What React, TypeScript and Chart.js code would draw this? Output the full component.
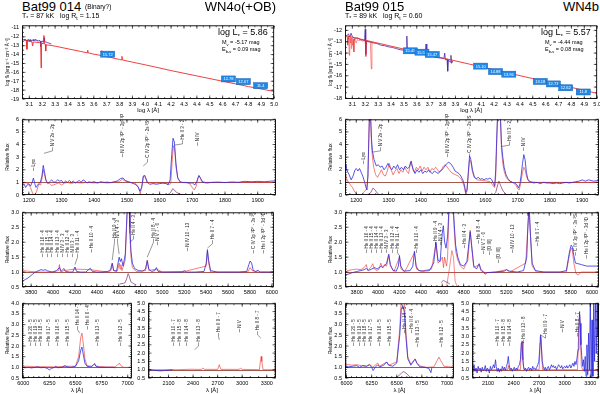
import React, { useEffect, useRef } from 'react';
import { Chart, registerables } from 'chart.js';
Chart.register(...registerables);

const FONT = "'Liberation Sans', Helvetica, Arial, sans-serif";
const BLUE = 'rgb(45,45,225)';
const RED = 'rgba(238,40,40,0.75)';
const RED_SOLID = 'rgb(236,45,45)';
const PURPLE = 'rgb(75,40,170)';
const INSET = 'rgb(130,40,120)';

type P = [number, number];
type LineId = { x: number; y: number; t: string; lx?: number; ly?: number };
type Phot = { x: number; y: number; t: string };

// ---------------- tick labels ----------------
const sedXTicks = [3.1, 3.2, 3.3, 3.4, 3.5, 3.6, 3.7, 3.8, 3.9, 4.0, 4.1, 4.2, 4.3, 4.4, 4.5, 4.6, 4.7, 4.8, 4.9, 5.0];
const sedYTicksL = [-11, -12, -13, -14, -15, -16, -17, -18, -19];
const sedYTicksR = [-12, -13, -14, -15, -16, -17, -18];
const uvXTicks = [1200, 1300, 1400, 1500, 1600, 1700, 1800, 1900];
const uvYTicks = [0, 1, 2, 3, 4, 5, 6];
const optXTicks = [3800, 4000, 4200, 4400, 4600, 4800, 5000, 5200, 5400, 5600, 5800, 6000];
const optYTicks = [0.5, 1.0, 1.5, 2.0, 2.5, 3.0];
const haXTicks = [6000, 6250, 6500, 6750, 7000];
const haYTicks = [0.5, 1.0, 1.5, 2.0, 2.5, 3.0, 3.5, 4.0];
const irXTicks = [2100, 2400, 2700, 3000, 3300];
const irYTicks = [0.5, 1.0, 1.5, 2.0, 2.5, 3.0, 3.5, 4.0, 4.5, 5.0];

// ---------------- SED, Bat99 014 ----------------
const sedModelL: P[] = [[3.043,-12.3],[3.07,-12.35],[3.078,-12.4],[3.081,-13.4],[3.084,-12.45],[3.1,-12.5],[3.12,-12.55],[3.124,-13.0],[3.128,-12.6],[3.15,-12.6],[3.18,-12.65],[3.188,-12.7],[3.191,-15.5],[3.194,-12.75],[3.21,-12.75],[3.213,-11.85],[3.216,-12.8],[3.224,-12.85],[3.227,-13.6],[3.23,-12.9],[3.26,-12.95],[3.3,-13.05],[3.4,-13.35],[3.5,-13.65],[3.55,-13.8],[3.553,-13.5],[3.556,-13.8],[3.6,-13.95],[3.66,-14.1],[3.663,-13.55],[3.667,-14.15],[3.7,-14.25],[3.733,-14.3],[3.735,-14.05],[3.738,-14.35],[3.8,-14.55],[3.817,-14.6],[3.819,-14.2],[3.822,-14.6],[3.9,-14.85],[4.0,-15.15],[4.2,-15.8],[4.4,-16.4],[4.6,-17.0],[4.8,-17.6],[5.0,-18.15]];
const sedObsL: P[] = [[3.06,-12.25],[3.065,-12.4],[3.07,-12.3],[3.075,-12.45],[3.08,-12.35],[3.085,-12.5],[3.09,-12.3],[3.095,-12.4],[3.1,-12.35],[3.105,-12.5],[3.11,-12.3],[3.115,-12.45],[3.12,-12.35],[3.125,-12.4],[3.13,-12.3],[3.135,-12.45],[3.14,-12.4],[3.145,-12.3],[3.15,-12.4],[3.155,-12.35],[3.16,-12.45],[3.165,-12.4],[3.17,-12.5],[3.175,-12.4],[3.18,-12.45],[3.185,-12.5],[3.188,-13.1],[3.192,-12.5],[3.2,-12.55],[3.205,-12.45],[3.21,-12.55],[3.214,-12.1],[3.218,-12.55],[3.23,-12.6],[3.24,-12.65],[3.25,-12.7],[3.26,-12.75],[3.27,-12.8]];
const sedPhotL: Phot[] = [{x:3.708,y:-13.95,t:'15.72'},{x:4.645,y:-16.74,t:'12.78'},{x:4.761,y:-17.04,t:'12.67'},{x:4.895,y:-17.5,t:'11.4'}];

// ---------------- SED, Bat99 015 ----------------
const sedModelR: P[] = [[3.043,-12.45],[3.5,-13.65],[4.0,-14.95],[4.5,-16.25],[5.0,-17.55]];
const sedUvR: P[] = [[3.06,-12.6],[3.064,-13.3],[3.068,-12.5],[3.072,-12.8],[3.076,-14.2],[3.08,-12.7],[3.084,-13.1],[3.088,-12.6],[3.092,-13.6],[3.096,-12.65],[3.1,-13.3],[3.104,-12.7],[3.108,-12.8],[3.112,-13.9],[3.116,-12.75],[3.12,-12.85],[3.13,-13.1],[3.14,-12.8],[3.15,-12.9],[3.16,-12.85],[3.17,-12.9],[3.18,-12.95],[3.19,-12.9],[3.2,-12.95],[3.205,-14.3],[3.21,-12.95],[3.22,-13.0],[3.23,-13.0],[3.24,-13.05],[3.247,-15.4],[3.252,-13.05],[3.26,-13.1]];
const sedObsR: P[] = [[3.06,-12.45],[3.07,-12.3],[3.08,-12.6],[3.09,-12.25],[3.1,-12.55],[3.12,-12.7],[3.14,-12.65],[3.16,-12.8],[3.18,-12.85],[3.195,-12.9],[3.2,-11.9],[3.204,-14.1],[3.21,-12.95],[3.23,-13.0],[3.26,-13.1],[3.29,-13.15],[3.32,-13.3],[3.35,-13.35],[3.38,-13.45],[3.41,-13.5],[3.44,-13.6],[3.47,-13.7],[3.5,-13.75],[3.52,-13.8],[3.523,-12.5],[3.527,-13.85],[3.55,-13.85],[3.58,-13.95],[3.61,-14.0],[3.64,-14.1],[3.665,-14.15],[3.672,-13.2],[3.678,-14.2],[3.7,-14.2],[3.73,-14.3],[3.733,-13.9],[3.736,-14.35],[3.76,-14.4],[3.79,-14.45],[3.81,-14.5],[3.817,-14.0],[3.822,-14.6],[3.835,-14.55],[3.84,-15.6],[3.845,-14.6],[3.86,-14.8],[3.865,-14.2],[3.87,-14.9],[3.88,-14.7]];
const sedPhotR: Phot[] = [{x:3.55,y:-13.8,t:'15.43'},{x:3.64,y:-13.92,t:'15.55'},{x:3.72,y:-14.12,t:'15.47'},{x:4.096,y:-15.15,t:'15.10'},{x:4.211,y:-15.63,t:'14.88'},{x:4.314,y:-15.86,t:'13.96'},{x:4.558,y:-16.5,t:'13.18'},{x:4.66,y:-16.72,t:'12.73'},{x:4.756,y:-17.06,t:'12.62'},{x:4.892,y:-17.43,t:'11.8'}];

// ---------------- UV, Bat99 014 ----------------
const uvObsL: P[] = [[1179,0.75],[1185,0.9],[1190,0.6],[1195,0.8],[1200,0.9],[1205,0.7],[1210,1.0],[1214,1.35],[1218,0.9],[1222,0.6],[1226,0.75],[1230,0.9],[1235,1.0],[1240,1.5],[1244,2.35],[1248,1.8],[1252,1.2],[1258,0.9],[1264,1.05],[1270,1.2],[1276,1.0],[1282,1.05],[1288,1.2],[1294,1.1],[1300,1.15],[1306,0.95],[1312,1.1],[1318,1.0],[1324,1.15],[1330,1.0],[1336,1.1],[1342,0.95],[1348,1.05],[1354,1.15],[1360,1.0],[1366,1.2],[1372,1.1],[1378,0.95],[1384,1.05],[1390,1.0],[1400,1.05],[1410,0.95],[1420,1.05],[1430,1.0],[1440,1.02],[1450,0.98],[1460,1.05],[1470,1.1],[1480,1.3],[1488,1.35],[1495,1.15],[1505,1.05],[1515,0.95],[1525,0.85],[1533,0.7],[1540,0.3],[1545,0.6],[1550,1.5],[1555,1.55],[1562,1.0],[1570,0.85],[1580,0.9],[1590,0.85],[1600,0.9],[1610,0.95],[1620,0.9],[1626,0.8],[1632,1.2],[1637,3.2],[1641,4.5],[1645,4.2],[1650,2.5],[1655,1.4],[1662,1.05],[1670,1.0],[1680,1.0],[1690,0.95],[1700,0.95],[1708,0.8],[1714,1.1],[1720,1.55],[1726,1.3],[1732,1.0],[1745,0.95],[1760,1.0],[1780,1.02],[1800,0.98],[1820,1.03],[1840,1.0],[1860,1.08],[1880,1.05],[1900,1.08],[1920,1.05],[1940,1.1],[1956,1.12]];
const uvModL: P[] = [[1179,1.0],[1195,0.95],[1205,0.6],[1212,0.1],[1218,0.0],[1224,0.3],[1230,0.85],[1236,0.8],[1240,1.3],[1244,2.0],[1248,1.6],[1254,1.0],[1262,0.95],[1270,0.75],[1280,0.85],[1290,0.95],[1300,0.8],[1310,0.95],[1320,1.0],[1330,0.9],[1340,1.0],[1360,0.95],[1380,1.0],[1400,0.95],[1420,1.0],[1440,0.95],[1460,1.0],[1475,1.05],[1486,1.25],[1495,1.1],[1510,1.0],[1525,0.95],[1535,0.6],[1541,0.15],[1546,0.7],[1551,1.5],[1556,1.4],[1563,1.0],[1580,0.95],[1600,0.95],[1620,0.95],[1630,0.85],[1634,0.9],[1638,2.5],[1642,3.9],[1646,3.7],[1650,2.2],[1656,1.3],[1665,1.0],[1690,0.95],[1700,0.6],[1706,0.4],[1712,0.7],[1718,1.4],[1722,1.5],[1728,1.1],[1740,1.0],[1956,1.0]];
const uvInsetL: P[] = [[1620,0.0],[1630,0.1],[1636,0.3],[1640,0.5],[1645,0.4],[1652,0.2],[1665,0.05],[1680,0.0]];
const uvIdsL: LineId[] = [
  {x:1214,y:1.9,t:'Ly\u03b1'},
  {x:1270,y:3.5,t:'N V 2s - 2p',lx:1246,ly:3.3},
  {x:1484,y:3.0,t:'N IV 2p \u00b3P\u00b0 - 2p\u00b2 \u00b3P'},
  {x:1561,y:2.6,t:'C IV 2p \u00b2P\u00b0 - 2s \u00b2S',lx:1550,ly:2.3},
  {x:1668,y:4.05,t:'He II 3 - 2',lx:1645,ly:3.95},
  {x:1714,y:3.9,t:'N IV'},
];

// ---------------- UV, Bat99 015 ----------------
const uvObsR: P[] = [[1165,2.4],[1168,2.2],[1172,1.9],[1178,1.6],[1184,1.2],[1190,1.5],[1196,2.0],[1200,2.1],[1205,1.9],[1210,2.1],[1215,1.8],[1220,1.5],[1226,1.0],[1230,0.6],[1233,0.4],[1236,1.5],[1239,4.5],[1241,6.5],[1244,6.5],[1247,4.5],[1250,3.5],[1255,2.8],[1262,2.3],[1268,2.4],[1274,2.2],[1280,2.3],[1286,2.0],[1292,2.2],[1298,2.5],[1304,2.2],[1310,2.0],[1316,2.3],[1322,2.1],[1328,2.4],[1334,2.0],[1340,2.2],[1346,2.0],[1352,2.3],[1358,2.1],[1364,2.2],[1370,2.7],[1376,2.0],[1382,1.7],[1388,2.0],[1394,1.8],[1400,2.0],[1406,1.7],[1412,1.9],[1418,1.8],[1424,2.0],[1430,1.8],[1436,1.7],[1442,1.9],[1448,1.8],[1454,1.7],[1460,1.9],[1466,2.0],[1472,2.2],[1478,2.4],[1485,2.6],[1492,2.5],[1500,2.2],[1506,1.9],[1512,1.8],[1518,1.7],[1524,1.5],[1530,1.2],[1535,0.8],[1539,0.2],[1543,0.4],[1547,1.8],[1551,3.1],[1555,2.8],[1560,2.0],[1566,1.4],[1572,1.3],[1578,1.4],[1584,1.25],[1590,1.3],[1596,1.2],[1602,1.3],[1608,1.25],[1614,1.35],[1620,1.2],[1625,0.9],[1629,0.7],[1632,2.0],[1635,4.5],[1638,6.5],[1646,6.5],[1650,4.0],[1654,3.0],[1658,2.2],[1664,1.6],[1670,1.3],[1676,1.1],[1684,1.0],[1692,0.95],[1698,0.8],[1703,0.55],[1707,0.9],[1711,1.6],[1715,2.5],[1719,3.2],[1723,2.8],[1727,1.8],[1732,1.2],[1740,1.05],[1750,0.95],[1760,1.0],[1770,0.9],[1780,1.0],[1790,0.95],[1800,0.95],[1810,0.9],[1820,0.95],[1830,0.9],[1840,0.95],[1850,1.0],[1860,0.95],[1870,1.0],[1880,1.05],[1890,1.1],[1900,1.2],[1910,1.1],[1920,1.2],[1935,1.1],[1952,1.15]];
const uvModR: P[] = [[1165,1.8],[1170,1.3],[1176,1.0],[1182,0.8],[1188,0.6],[1194,0.3],[1200,0.1],[1206,0.0],[1214,0.0],[1220,0.1],[1226,0.3],[1232,0.5],[1236,1.5],[1239,5.0],[1241,6.5],[1244,6.5],[1247,4.0],[1250,3.0],[1254,2.2],[1260,1.6],[1266,1.4],[1272,1.7],[1278,2.0],[1284,1.6],[1290,1.5],[1296,1.9],[1302,2.5],[1308,2.0],[1314,1.6],[1320,1.9],[1326,2.1],[1332,1.7],[1338,2.0],[1344,1.8],[1350,2.2],[1356,1.9],[1362,1.7],[1368,2.6],[1374,2.2],[1380,1.8],[1386,2.2],[1392,2.0],[1398,2.3],[1404,1.9],[1410,2.2],[1416,2.0],[1422,2.2],[1428,1.8],[1434,2.1],[1440,2.0],[1446,2.2],[1452,2.0],[1458,1.8],[1464,2.0],[1470,2.3],[1476,2.4],[1482,2.2],[1488,2.0],[1494,1.8],[1500,1.7],[1508,1.6],[1516,1.5],[1524,1.3],[1530,1.0],[1535,0.6],[1539,0.1],[1543,0.3],[1547,1.6],[1551,2.8],[1555,2.6],[1560,1.8],[1566,1.4],[1575,1.2],[1590,1.15],[1605,1.1],[1615,1.05],[1622,0.8],[1628,0.6],[1632,1.5],[1635,4.0],[1638,6.5],[1646,6.5],[1650,3.5],[1654,2.5],[1658,1.9],[1664,1.4],[1672,1.15],[1684,1.0],[1694,0.8],[1700,0.5],[1705,0.4],[1710,1.0],[1715,1.8],[1719,2.2],[1723,2.0],[1728,1.4],[1735,1.05],[1760,1.0],[1952,1.0]];
const uvInsetR1: P[] = [[1236,0.0],[1245,0.2],[1252,0.55],[1258,0.4],[1265,0.15],[1272,0.0]];
const uvInsetR2: P[] = [[1625,0.0],[1632,0.2],[1638,0.8],[1642,1.1],[1648,0.7],[1655,0.3],[1665,0.05],[1680,0.0]];
const uvIdsR: LineId[] = [
  {x:1222,y:2.45,t:'Ly\u03b1'},
  {x:1273,y:3.5,t:'N V 2s - 2p',lx:1250,ly:3.4},
  {x:1480,y:3.0,t:'N IV 2p \u00b3P\u00b0 - 2p\u00b2 \u00b3P'},
  {x:1550,y:3.0,t:'C IV 2p \u00b2P\u00b0 - 2s \u00b2S'},
  {x:1673,y:3.95,t:'He II 3 - 2',lx:1650,ly:3.85},
  {x:1715,y:3.5,t:'N IV'},
];

// ---------------- optical, Bat99 014 ----------------
const optObsL: P[] = [[3716,0.7],[3733,0.72],[3750,0.76],[3770,0.8],[3790,0.86],[3810,0.92],[3830,0.98],[3850,1.02],[3870,1.05],[3890,1.08],[3910,1.06],[3930,1.08],[3950,1.04],[3970,1.02],[3990,1.0],[4010,1.02],[4030,1.05],[4058,1.15],[4075,1.03],[4100,1.12],[4115,1.02],[4150,1.0],[4180,1.0],[4200,1.17],[4215,1.02],[4250,1.0],[4300,1.0],[4340,1.13],[4360,1.02],[4400,1.0],[4450,1.0],[4500,1.02],[4525,1.08],[4541,1.3],[4555,1.05],[4580,1.02],[4604,1.5],[4615,1.35],[4625,1.45],[4640,1.2],[4660,1.6],[4672,2.6],[4680,3.3],[4695,3.3],[4702,2.5],[4712,1.7],[4725,1.3],[4745,1.12],[4780,1.05],[4820,1.03],[4845,1.1],[4861,1.38],[4875,1.1],[4900,1.02],[4930,1.05],[4945,1.15],[4960,1.02],[5000,1.0],[5100,1.0],[5180,1.0],[5200,1.05],[5220,1.0],[5300,1.0],[5380,1.02],[5400,1.3],[5411,1.75],[5422,1.4],[5440,1.05],[5500,1.0],[5600,1.0],[5700,1.0],[5770,1.02],[5790,1.25],[5801,1.37],[5815,1.3],[5830,1.05],[5850,1.02],[5875,1.06],[5890,1.0],[5950,1.0],[6019,1.0]];
const optModL: P[] = [[3716,1.05],[3800,1.02],[3850,1.0],[3900,1.0],[4000,1.0],[4050,1.05],[4058,1.25],[4068,1.0],[4100,1.05],[4200,1.1],[4340,1.08],[4500,1.0],[4530,1.05],[4541,1.28],[4552,1.05],[4590,1.05],[4604,1.3],[4612,1.1],[4620,1.25],[4630,1.05],[4660,1.4],[4672,2.5],[4680,3.3],[4695,3.3],[4702,2.3],[4712,1.5],[4725,1.15],[4760,1.02],[4845,1.05],[4861,1.4],[4875,1.05],[4945,1.1],[5000,1.0],[5200,1.02],[5400,1.2],[5411,1.7],[5422,1.3],[5440,1.0],[5780,1.0],[5801,1.15],[5820,1.05],[5875,1.0],[6019,1.0]];
const optInsetL: P[] = [[4610,0.6],[4640,0.62],[4660,0.65],[4675,0.8],[4686,0.95],[4695,0.88],[4710,0.68],[4740,0.6],[4760,0.58]];
const optIdsL: LineId[] = [
  {x:3895,y:1.5,t:'He II 16 - 4'},{x:3940,y:1.5,t:'He II 15 - 4'},{x:3985,y:1.5,t:'He II 14 - 4'},{x:4036,y:1.5,t:'He II 13 - 4'},
  {x:4081,y:1.5,t:'N IV 3 - 3'},{x:4130,y:1.5,t:'He II 12 - 4'},{x:4176,y:1.5,t:'N III 3 - 3'},{x:4221,y:1.5,t:'He II 11 - 4',lx:4200,ly:1.25},
  {x:4348,y:1.65,t:'He II 10 - 4'},
  {x:4559,y:2.0,t:'He II 9 - 4',lx:4541,ly:1.4},{x:4589,y:2.0,t:'N V 4 - 3',lx:4604,ly:1.6},
  {x:4731,y:2.1,t:'He II 4 - 3',lx:4700,ly:2.0},
  {x:4913,y:2.0,t:'He II 8 - 4',lx:4861,ly:1.5},{x:4952,y:1.9,t:'N V 7 - 6'},
  {x:5224,y:1.7,t:'N IV 10 - 13'},
  {x:5451,y:1.95,t:'He II 7 - 4',lx:5411,ly:1.8},
  {x:5829,y:1.62,t:'C IV 3p \u00b2P\u00b0 - 3s \u00b2S'},{x:5919,y:1.62,t:'He I 2p \u00b3P\u00b0 - 3d \u00b3D'},
];

// ---------------- optical, Bat99 015 ----------------
const optObsR: P[] = [[3691,0.9],[3720,0.93],[3760,0.98],[3800,1.02],[3840,1.05],[3870,1.08],[3890,1.12],[3910,1.05],[3940,1.1],[3970,1.15],[3990,1.1],[4010,1.15],[4030,1.2],[4045,1.15],[4060,1.2],[4080,1.3],[4100,1.6],[4115,1.25],[4140,1.05],[4170,1.03],[4190,1.2],[4200,1.55],[4212,1.2],[4240,1.03],[4300,1.05],[4325,1.2],[4340,1.7],[4355,1.2],[4380,1.05],[4420,1.03],[4480,1.05],[4520,1.3],[4541,2.0],[4560,1.4],[4580,1.35],[4600,2.3],[4610,2.55],[4622,2.0],[4635,1.8],[4650,2.2],[4665,3.3],[4700,3.3],[4712,2.6],[4725,1.9],[4745,1.5],[4770,1.25],[4800,1.2],[4830,1.35],[4850,2.0],[4861,2.35],[4872,2.0],[4895,1.2],[4920,1.1],[4945,1.28],[4960,1.1],[4985,1.0],[5000,0.93],[5020,0.98],[5100,1.0],[5180,1.03],[5200,1.08],[5230,1.03],[5300,1.0],[5360,1.05],[5390,1.5],[5400,2.5],[5411,3.3],[5425,2.2],[5440,1.3],[5470,1.05],[5550,1.0],[5700,1.0],[5760,1.05],[5790,1.7],[5805,1.9],[5815,1.85],[5830,1.55],[5845,1.3],[5870,1.28],[5900,1.25],[5950,1.2],[6000,1.2],[6065,1.2]];
const optModR: P[] = [[3691,1.0],[3720,1.05],[3760,1.08],[3800,1.1],[3840,1.08],[3870,1.15],[3890,1.25],[3905,1.05],[3930,1.15],[3950,1.28],[3965,1.1],[3990,1.05],[4010,1.1],[4026,1.3],[4040,1.15],[4060,1.25],[4080,1.2],[4100,1.55],[4115,1.2],[4150,1.03],[4200,1.5],[4215,1.1],[4250,1.02],[4340,1.65],[4360,1.1],[4400,1.03],[4500,1.1],[4541,1.95],[4560,1.3],[4585,1.4],[4600,1.5],[4612,1.15],[4622,1.5],[4640,1.2],[4650,1.5],[4665,3.3],[4700,3.3],[4712,2.4],[4725,1.7],[4745,1.4],[4770,1.2],[4800,1.1],[4840,1.4],[4861,2.4],[4875,1.8],[4895,1.15],[4945,1.25],[4960,1.05],[5000,0.98],[5100,1.0],[5200,1.08],[5230,1.0],[5380,1.3],[5400,2.5],[5411,3.1],[5425,2.2],[5440,1.2],[5480,1.0],[5760,1.0],[5790,1.6],[5805,1.8],[5815,1.75],[5830,1.3],[5850,0.95],[5870,0.9],[5900,1.0],[6065,1.0]];
const optInsetR1: P[] = [[4590,0.65],[4610,0.72],[4630,0.68],[4650,0.65],[4670,0.6]];
const optInsetR2: P[] = [[4640,0.5],[4670,1.2],[4690,1.72],[4705,1.5],[4720,0.7],[4740,0.5]];
const optIdsR: LineId[] = [
  {x:3885,y:1.64,t:'He II 16 - 4'},{x:3934,y:1.64,t:'He II 15 - 4'},{x:3981,y:1.64,t:'He II 14 - 4'},{x:4028,y:1.64,t:'He II 13 - 4'},
  {x:4074,y:1.64,t:'N IV 3 - 3'},{x:4128,y:1.64,t:'He II 12 - 4'},{x:4174,y:1.64,t:'He II 11 - 4',lx:4200,ly:1.55},
  {x:4355,y:1.64,t:'He II 10 - 4'},
  {x:4532,y:1.9,t:'He II 9 - 4'},{x:4579,y:1.9,t:'N V 4 - 3'},
  {x:4806,y:1.8,t:'He II 4 - 3'},
  {x:4937,y:1.95,t:'He II 8 - 4'},{x:4978,y:1.6,t:'N V 7 - 6'},
  {x:5040,y:1.57,t:'[O III]'},{x:5124,y:1.3,t:'[O III]'},
  {x:5255,y:1.64,t:'N IV 10 - 13'},
  {x:5483,y:1.87,t:'He II 7 - 4'},
  {x:5842,y:1.55,t:'C IV 3p \u00b2P\u00b0 - 3s \u00b2S'},{x:5944,y:1.45,t:'He I 2p \u00b3P\u00b0 - 3d \u00b3D'},
];

// ---------------- H-alpha region ----------------
const haObsL: P[] = [[5990,1.0],[6020,0.98],[6050,1.0],[6080,0.97],[6110,1.0],[6140,1.02],[6170,0.98],[6200,1.0],[6230,0.95],[6250,0.88],[6270,0.95],[6300,1.0],[6310,1.05],[6330,0.98],[6370,1.0],[6400,1.08],[6420,1.02],[6460,1.0],[6500,1.05],[6530,1.3],[6550,1.8],[6562,1.95],[6575,1.6],[6590,1.2],[6610,1.05],[6650,1.02],[6670,1.1],[6683,1.18],[6695,1.05],[6730,1.0],[6800,1.0],[6850,1.0],[6880,0.98]];
const haModL: P[] = [[5990,1.05],[6050,1.05],[6110,1.03],[6200,1.03],[6300,1.02],[6400,1.05],[6500,1.05],[6530,1.5],[6550,2.4],[6562,2.6],[6575,2.1],[6590,1.4],[6610,1.08],[6650,1.05],[6683,1.15],[6700,1.05],[6800,1.02],[6880,1.02],[6900,1.1],[6920,1.2],[6935,1.08],[6960,1.0],[7041,1.0]];
const haIdsL: LineId[] = [
  {x:6065,y:2.0,t:'He II 20 - 5'},{x:6112,y:2.0,t:'He II 19 - 5'},{x:6160,y:2.0,t:'He II 18 - 5'},{x:6240,y:2.0,t:'He II 17 - 5'},
  {x:6320,y:2.0,t:'He II 16 - 5'},{x:6416,y:2.0,t:'He II 15 - 5'},
  {x:6511,y:2.77,t:'He II 14 - 5',lx:6540,ly:2.6},{x:6613,y:2.77,t:'He II 6 - 4'},
  {x:6708,y:2.0,t:'He II 13 - 5'},{x:6926,y:2.0,t:'He II 12 - 5'},
];
const haObsR: P[] = [[5985,1.05],[6020,1.02],[6060,1.05],[6100,1.08],[6130,1.0],[6160,1.08],[6200,1.05],[6230,1.12],[6250,1.0],[6265,0.85],[6285,1.0],[6310,1.12],[6330,1.02],[6370,1.1],[6400,1.25],[6420,1.1],[6460,1.05],[6500,1.2],[6530,2.5],[6545,3.7],[6560,3.9],[6575,3.6],[6590,2.5],[6610,1.4],[6640,1.1],[6670,1.3],[6683,1.38],[6700,1.2],[6730,1.02],[6780,1.0],[6820,0.95],[6840,0.75],[6850,1.0]];
const haModR: P[] = [[5985,1.15],[6050,1.1],[6100,1.12],[6150,1.08],[6200,1.05],[6230,1.15],[6260,1.0],[6310,1.2],[6330,1.05],[6400,1.25],[6420,1.1],[6500,1.25],[6530,2.8],[6545,4.2],[6575,4.2],[6590,2.8],[6610,1.5],[6640,1.15],[6683,1.4],[6700,1.2],[6740,1.05],[6800,1.0],[6870,1.02],[6900,1.3],[6920,1.48],[6940,1.3],[6970,1.05],[7070,1.0]];
const haInsetR: P[] = [[6480,0.5],[6520,0.6],[6550,0.75],[6570,0.8],[6600,0.7],[6630,0.55],[6650,0.5]];
const haIdsR: LineId[] = [
  {x:6065,y:2.0,t:'He II 20 - 5'},{x:6123,y:2.0,t:'He II 19 - 5'},{x:6179,y:2.0,t:'He II 18 - 5'},{x:6234,y:2.0,t:'He II 17 - 5'},
  {x:6324,y:2.0,t:'He II 16 - 5'},{x:6421,y:2.0,t:'He II 15 - 5'},
  {x:6575,y:2.6,t:'He II 14 - 5'},{x:6640,y:2.6,t:'He II 6 - 4'},
  {x:6704,y:1.95,t:'He II 13 - 5'},{x:6937,y:1.95,t:'He II 12 - 5'},
];

// ---------------- IR region ----------------
const irObsL: P[] = [[1849,1.0],[1900,0.97],[1950,0.95],[2000,0.93],[2050,0.95],[2100,0.97],[2150,1.0]];
const irModL: P[] = [[1849,1.0],[2200,1.0],[2400,1.03],[2420,1.02],[2500,1.02],[2520,1.1],[2540,1.02],[2700,1.02],[2720,1.3],[2740,1.02],[2960,1.02],[2980,1.08],[3000,1.02],[3210,1.0],[3225,1.6],[3232,1.8],[3240,1.5],[3255,1.0],[3413,1.0]];
const irIdsL: LineId[] = [
  {x:2158,y:2.43,t:'He II 10 - 7'},{x:2227,y:2.43,t:'He II 15 - 8'},{x:2309,y:2.43,t:'He II 14 - 8'},
  {x:2463,y:2.43,t:'He II 13 - 8',lx:2420,ly:2.2},{x:2707,y:3.0,t:'He II 9 - 7',lx:2720,ly:2.8},
  {x:2963,y:3.25,t:'N V'},{x:3175,y:3.1,t:'He II 8 - 7',lx:3228,ly:2.9},
];
const irObsR: P[] = [[1912,1.2],[1924,1.0],[1936,1.3],[1948,0.9],[1960,1.1],[1972,0.8],[1984,1.2],[1996,1.0],[2008,1.1],[2020,0.85],[2032,1.15],[2044,0.95],[2056,1.0],[2068,1.25],[2080,0.9],[2092,1.1],[2104,1.0],[2116,0.8],[2128,1.2],[2140,1.0],[2152,1.1],[2164,1.3],[2176,1.1],[2188,1.6],[2196,1.2],[2208,0.9],[2220,1.1],[2232,0.85],[2244,1.05],[2256,0.9],[2268,1.2],[2280,1.0],[2292,1.15],[2304,0.95],[2316,1.2],[2328,1.4],[2338,1.8],[2348,1.3],[2360,1.0],[2372,1.1],[2384,0.9],[2396,1.05],[2408,1.15],[2420,0.95],[2432,1.1],[2444,1.0],[2456,1.2],[2468,1.3],[2480,1.6],[2490,2.6],[2498,2.7],[2506,1.8],[2516,1.2],[2528,1.0],[2540,1.1],[2552,0.9],[2564,1.05],[2576,1.15],[2588,1.0],[2600,1.1],[2612,0.95],[2624,1.2],[2636,1.05],[2648,1.1],[2660,1.0],[2672,1.15],[2684,1.3],[2696,1.5],[2706,2.2],[2716,3.1],[2726,2.4],[2736,1.5],[2748,1.2],[2760,1.0],[2772,1.15],[2784,0.95],[2796,1.1],[2808,1.2],[2820,1.0],[2832,1.1],[2844,1.3],[2856,1.15],[2868,1.25],[2880,1.1],[2892,1.2],[2904,1.0],[2916,1.15],[2928,1.3],[2940,1.2],[2952,1.1],[2964,1.25],[2976,1.05],[2988,1.15],[3000,1.2],[3012,1.1],[3024,1.25],[3036,1.1],[3048,1.2],[3060,1.3],[3072,1.1],[3084,1.25],[3096,1.4],[3108,1.2],[3120,1.5],[3132,1.3],[3144,1.7],[3156,2.2],[3166,3.5],[3174,4.5],[3182,3.8],[3190,2.5],[3200,1.8],[3210,1.2],[3220,1.6],[3230,0.9],[3240,1.8],[3250,0.6],[3260,2.5],[3270,0.7],[3280,3.2],[3290,1.0],[3300,5.3],[3310,0.5],[3320,4.0],[3330,0.6],[3340,5.3],[3350,1.5],[3360,5.3],[3370,2.0],[3380,5.3],[3390,3.0],[3402,5.3]];
const irModR: P[] = [[1912,1.0],[2150,1.0],[2330,1.0],[2340,1.25],[2350,1.0],[2480,1.0],[2492,2.4],[2500,2.65],[2510,1.6],[2520,1.0],[2700,1.0],[2712,2.6],[2720,3.0],[2730,2.0],[2740,1.0],[2980,1.0],[2990,1.05],[3000,1.0],[3150,1.0],[3165,3.5],[3175,4.3],[3185,3.0],[3195,1.2],[3210,1.0],[3402,1.0]];
const irIdsR: LineId[] = [
  {x:2202,y:2.43,t:'He II 10 - 7'},{x:2280,y:2.43,t:'He II 15 - 8'},{x:2351,y:2.43,t:'He II 14 - 8'},
  {x:2508,y:2.6,t:'He II 13 - 8',lx:2498,ly:2.75},{x:2770,y:2.9,t:'He II 9 - 7',lx:2716,ly:3.1},
  {x:2967,y:3.25,t:'N V'},{x:3143,y:3.0,t:'He II 8 - 7'},
];

// ---------------- panel machinery ----------------
interface Series { d: P[]; c: string; w?: number }
interface Cfg {
  x0: number; x1: number; y0: number; y1: number;
  xMin: number; xMax: number; yMin: number; yMax: number;
  xTicks: number[]; yTicks: number[]; xMinor: number; yMinor: number;
  xDec: number; yDec: number;
  series: Series[];
  ids?: LineId[]; boxes?: Phot[]; ref1?: boolean;
  xTitle?: string; yTitle?: string; yTitleSize?: number; ml: number; mb: number;
}

function minorVals(min: number, max: number, step: number): number[] {
  const out: number[] = [];
  for (let i = Math.ceil(min / step - 1e-9); i * step <= max + 1e-9; i++) out.push(i * step);
  return out;
}

function Panel({ c }: { c: Cfg }) {
  const ref = useRef<HTMLCanvasElement | null>(null);
  const MT = 4, MR = 4;
  const W = c.x1 - c.x0 + c.ml + MR;
  const H = c.y1 - c.y0 + MT + c.mb;
  useEffect(() => {
    const cv = ref.current;
    if (!cv) return;
    const deco = {
      id: 'deco',
      beforeDatasetsDraw(ch: any) {
        if (!c.ref1) return;
        const { ctx, chartArea: a, scales } = ch;
        const py = Math.round(scales.y.getPixelForValue(1)) + 0.5;
        ctx.save();
        ctx.strokeStyle = '#8c2f22';
        ctx.lineWidth = 0.8;
        ctx.beginPath(); ctx.moveTo(a.left, py); ctx.lineTo(a.right, py); ctx.stroke();
        ctx.restore();
      },
      afterDatasetsDraw(ch: any) {
        const { ctx, chartArea: a, scales } = ch;
        const xs = scales.x, ys = scales.y;
        ctx.save();
        if (c.boxes) {
          ctx.font = `4px ${FONT}`;
          ctx.textAlign = 'center';
          ctx.textBaseline = 'middle';
          for (const b of c.boxes) {
            const px = xs.getPixelForValue(b.x), py = ys.getPixelForValue(b.y);
            ctx.fillStyle = '#2188e8';
            ctx.fillRect(px - 7, py - 3, 14, 6);
            ctx.strokeStyle = '#1460b0'; ctx.lineWidth = 0.5;
            ctx.strokeRect(px - 7, py - 3, 14, 6);
            ctx.fillStyle = '#fff';
            ctx.fillText(b.t, px, py + 0.3);
          }
        }
        // frame
        const L = a.left + 0.5, R = a.right - 0.5, T = a.top + 0.5, B = a.bottom - 0.5;
        ctx.strokeStyle = '#000';
        ctx.lineWidth = 0.9;
        ctx.strokeRect(L, T, R - L, B - T);
        ctx.lineWidth = 0.6;
        ctx.beginPath();
        const xm = minorVals(c.xMin, c.xMax, c.xMinor);
        for (const v of xm) { const p = xs.getPixelForValue(v); ctx.moveTo(p, B); ctx.lineTo(p, B - 1.5); ctx.moveTo(p, T); ctx.lineTo(p, T + 1.5); }
        for (const v of c.xTicks) { const p = xs.getPixelForValue(v); ctx.moveTo(p, B); ctx.lineTo(p, B - 3); ctx.moveTo(p, T); ctx.lineTo(p, T + 3); }
        const ym = minorVals(c.yMin, c.yMax, c.yMinor);
        for (const v of ym) { const p = ys.getPixelForValue(v); ctx.moveTo(L, p); ctx.lineTo(L + 1.5, p); ctx.moveTo(R, p); ctx.lineTo(R - 1.5, p); }
        for (const v of c.yTicks) { const p = ys.getPixelForValue(v); ctx.moveTo(L, p); ctx.lineTo(L + 3, p); ctx.moveTo(R, p); ctx.lineTo(R - 3, p); }
        ctx.stroke();
        // line identifications
        if (c.ids) {
          ctx.font = `4.5px ${FONT}`;
          ctx.fillStyle = '#222';
          ctx.strokeStyle = '#333';
          ctx.lineWidth = 0.5;
          for (const d of c.ids) {
            const px = Math.round(xs.getPixelForValue(d.x)) + 0.5;
            const py = ys.getPixelForValue(d.y);
            ctx.beginPath();
            if (d.lx !== undefined && d.ly !== undefined) {
              ctx.moveTo(xs.getPixelForValue(d.lx), ys.getPixelForValue(d.ly));
              ctx.lineTo(px, py);
            }
            ctx.moveTo(px, py); ctx.lineTo(px, py - 3.5);
            ctx.stroke();
            ctx.save();
            ctx.translate(px, py - 4.5);
            ctx.rotate(-Math.PI / 2);
            ctx.textAlign = 'left';
            ctx.textBaseline = 'middle';
            ctx.fillText(d.t, 0, 0.3);
            ctx.restore();
          }
        }
        ctx.restore();
      },
    };
    const chart = new Chart(cv, {
      type: 'line',
      data: {
        datasets: c.series.map((s) => ({
          data: s.d.map(([x, y]) => ({ x, y })),
          borderColor: s.c,
          borderWidth: s.w ?? 0.8,
          pointRadius: 0,
          tension: 0,
          fill: false,
          clip: 0,
        })),
      },
      options: {
        responsive: false,
        animation: false,
        events: [],
        devicePixelRatio: 1,
        layout: { autoPadding: false, padding: { top: MT, right: MR, left: 0, bottom: 0 } },
        plugins: { legend: { display: false }, tooltip: { enabled: false } },
        scales: {
          x: {
            type: 'linear', position: 'bottom', min: c.xMin, max: c.xMax,
            grid: { display: false, drawTicks: false, tickLength: 0 }, border: { display: false },
            afterBuildTicks: (s: any) => { s.ticks = c.xTicks.map((v) => ({ value: v })); },
            afterFit: (s: any) => { s.height = c.mb; },
            ticks: {
              autoSkip: false, maxRotation: 0, minRotation: 0, padding: 2, color: '#000',
              font: { family: FONT, size: 5.5 },
              callback: (v: any) => Number(v).toFixed(c.xDec),
            },
            title: c.xTitle
              ? { display: true, text: c.xTitle, color: '#000', font: { family: FONT, size: 6 }, padding: { top: 0, bottom: 0.5 } }
              : { display: false },
          },
          y: {
            type: 'linear', position: 'left', min: c.yMin, max: c.yMax,
            grid: { display: false, drawTicks: false, tickLength: 0 }, border: { display: false },
            afterBuildTicks: (s: any) => { s.ticks = c.yTicks.map((v) => ({ value: v })); },
            afterFit: (s: any) => { s.width = c.ml; },
            ticks: {
              autoSkip: false, padding: 3, color: '#000',
              font: { family: FONT, size: 5.5 },
              callback: (v: any) => Number(v).toFixed(c.yDec),
            },
            title: c.yTitle
              ? { display: true, text: c.yTitle, color: '#000', font: { family: FONT, size: c.yTitleSize ?? 5 }, padding: { top: 5, bottom: 0 } }
              : { display: false },
          },
        },
      },
      plugins: [deco],
    } as any);
    return () => chart.destroy();
  }, []);
  return (
    <canvas
      ref={ref}
      width={W}
      height={H}
      style={{ position: 'absolute', left: c.x0 - c.ml, top: c.y0 - MT, width: W, height: H }}
    />
  );
}

// ---------------- layout ----------------
const SED_Y0 = 23, SED_Y1 = 99;
const UV_Y0 = 117, UV_Y1 = 195;
const OPT_Y0 = 210, OPT_Y1 = 287;
const BOT_Y0 = 301, BOT_Y1 = 378;
const LOGF = 'log f\u03bb [erg s\u207b\u00b9 cm\u207b\u00b2 \u00c5\u207b\u00b9]';

function sedCfg(x0: number, x1: number, yMin: number, yMax: number, yTicks: number[], series: Series[], boxes: Phot[]): Cfg {
  return { x0, x1, y0: SED_Y0, y1: SED_Y1, xMin: 3.043, xMax: 5.0, yMin, yMax, xTicks: sedXTicks, yTicks, xMinor: 0.05, yMinor: 0.5, xDec: 1, yDec: 0, series, boxes, xTitle: 'log \u03bb [\u00c5]', yTitle: LOGF, yTitleSize: 4.6, ml: 22, mb: 15 };
}

const panels: Cfg[] = [
  sedCfg(22, 276, -19, -10.7, sedYTicksL, [
    { d: sedModelL, c: RED_SOLID, w: 0.9 },
    { d: sedObsL, c: PURPLE, w: 0.8 },
  ], sedPhotL),
  sedCfg(345, 599, -18.05, -11.55, sedYTicksR, [
    { d: sedModelR, c: RED_SOLID, w: 0.9 },
    { d: sedUvR, c: RED, w: 0.7 },
    { d: sedObsR, c: PURPLE, w: 0.8 },
  ], sedPhotR),
  { x0: 22, x1: 276, y0: UV_Y0, y1: UV_Y1, xMin: 1179, xMax: 1956, yMin: 0, yMax: 6, xTicks: uvXTicks, yTicks: uvYTicks, xMinor: 20, yMinor: 0.2, xDec: 0, yDec: 0,
    series: [{ d: uvObsL, c: BLUE }, { d: uvModL, c: RED }, { d: uvInsetL, c: INSET, w: 0.7 }], ids: uvIdsL, ref1: true, yTitle: 'Relative flux', ml: 22, mb: 9 },
  { x0: 345, x1: 599, y0: UV_Y0, y1: UV_Y1, xMin: 1165, xMax: 1952, yMin: 0, yMax: 6, xTicks: uvXTicks, yTicks: uvYTicks, xMinor: 20, yMinor: 0.2, xDec: 0, yDec: 0,
    series: [{ d: uvObsR, c: BLUE }, { d: uvModR, c: RED }, { d: uvInsetR1, c: INSET, w: 0.7 }, { d: uvInsetR2, c: INSET, w: 0.7 }], ids: uvIdsR, ref1: true, yTitle: 'Relative flux', ml: 22, mb: 9 },
  { x0: 22, x1: 276, y0: OPT_Y0, y1: OPT_Y1, xMin: 3716, xMax: 6019, yMin: 0.5, yMax: 3.0, xTicks: optXTicks, yTicks: optYTicks, xMinor: 50, yMinor: 0.1, xDec: 0, yDec: 1,
    series: [{ d: optObsL, c: BLUE }, { d: optModL, c: RED }, { d: optInsetL, c: INSET, w: 0.7 }], ids: optIdsL, ref1: true, yTitle: 'Relative flux', ml: 22, mb: 9 },
  { x0: 345, x1: 599, y0: OPT_Y0, y1: OPT_Y1, xMin: 3691, xMax: 6065, yMin: 0.5, yMax: 3.0, xTicks: optXTicks, yTicks: optYTicks, xMinor: 50, yMinor: 0.1, xDec: 0, yDec: 1,
    series: [{ d: optObsR, c: BLUE }, { d: optModR, c: RED }, { d: optInsetR1, c: INSET, w: 0.7 }, { d: optInsetR2, c: RED, w: 0.7 }], ids: optIdsR, ref1: true, yTitle: 'Relative flux', ml: 22, mb: 9 },
  { x0: 22, x1: 132, y0: BOT_Y0, y1: BOT_Y1, xMin: 5988, xMax: 7041, yMin: 0.5, yMax: 4.0, xTicks: haXTicks, yTicks: haYTicks, xMinor: 50, yMinor: 0.1, xDec: 0, yDec: 1,
    series: [{ d: haObsL, c: BLUE }, { d: haModL, c: RED }], ids: haIdsL, ref1: true, yTitle: 'Relative flux', xTitle: '\u03bb [\u00c5]', ml: 22, mb: 16 },
  { x0: 148, x1: 276, y0: BOT_Y0, y1: BOT_Y1, xMin: 1849, xMax: 3413, yMin: 0.5, yMax: 5.0, xTicks: irXTicks, yTicks: irYTicks, xMinor: 100, yMinor: 0.1, xDec: 0, yDec: 1,
    series: [{ d: irObsL, c: BLUE }, { d: irModL, c: RED }], ids: irIdsL, ref1: true, xTitle: '\u03bb [\u00c5]', ml: 14, mb: 16 },
  { x0: 345, x1: 454, y0: BOT_Y0, y1: BOT_Y1, xMin: 5985, xMax: 7070, yMin: 0.5, yMax: 4.0, xTicks: haXTicks, yTicks: haYTicks, xMinor: 50, yMinor: 0.1, xDec: 0, yDec: 1,
    series: [{ d: haObsR, c: BLUE }, { d: haModR, c: RED }, { d: haInsetR, c: INSET, w: 0.7 }], ids: haIdsR, ref1: true, yTitle: 'Relative flux', xTitle: '\u03bb [\u00c5]', ml: 22, mb: 16 },
  { x0: 472, x1: 599, y0: BOT_Y0, y1: BOT_Y1, xMin: 1912, xMax: 3402, yMin: 0.5, yMax: 5.0, xTicks: irXTicks, yTicks: irYTicks, xMinor: 100, yMinor: 0.1, xDec: 0, yDec: 1,
    series: [{ d: irObsR, c: BLUE }, { d: irModR, c: RED }], ids: irIdsR, ref1: true, xTitle: '\u03bb [\u00c5]', ml: 14, mb: 16 },
];

const txt = (extra: React.CSSProperties): React.CSSProperties => ({
  position: 'absolute', fontFamily: FONT, color: '#000', whiteSpace: 'nowrap', lineHeight: 1, ...extra,
});
const sub = (s: string, size: number) => <span style={{ fontSize: size, verticalAlign: 'sub' }}>{s}</span>;

function Header(props: { left: number; right: number; name: string; note?: string; type: string; teff: string; rt: string; logl: string; mv: string; ebv: string }) {
  const { left, right, name, note, type, teff, rt, logl, mv, ebv } = props;
  return (
    <>
      <div style={txt({ left, top: 0, fontSize: 13 })}>{name}</div>
      {note ? <div style={txt({ left: left + 63, top: 4, fontSize: 6.5 })}>{note}</div> : null}
      <div style={txt({ right: 600 - right, top: 0, fontSize: 13 })}>{type}</div>
      <div style={txt({ left, top: 12, fontSize: 7 })}>
        T{sub('*', 5)} = {teff} kK&nbsp;&nbsp;&nbsp;log R{sub('t', 5)} = {rt}
      </div>
      <div style={txt({ left: right - 58, top: 28, fontSize: 9 })}>
        log L{sub('*', 6)} = {logl}
      </div>
      <div style={txt({ left: right - 54, top: 39.5, fontSize: 5.5 })}>
        M{sub('v', 4)} = {mv} mag
      </div>
      <div style={txt({ left: right - 54, top: 47, fontSize: 5.5 })}>
        E{sub('b-v', 4)} = {ebv} mag
      </div>
    </>
  );
}

export default function App() {
  return (
    <div style={{ position: 'absolute', left: 0, top: 0, width: 600, height: 394, background: '#fff', overflow: 'hidden' }}>
      {panels.map((c, i) => <Panel key={i} c={c} />)}
      <Header left={22} right={276} name="Bat99 014" note="(Binary?)" type="WN4o(+OB)" teff="87" rt="1.15" logl="5.86" mv="-5.17" ebv="0.09" />
      <Header left={345} right={599} name="Bat99 015" type="WN4b" teff="89" rt="0.60" logl="5.57" mv="-4.44" ebv="0.08" />
    </div>
  );
}
